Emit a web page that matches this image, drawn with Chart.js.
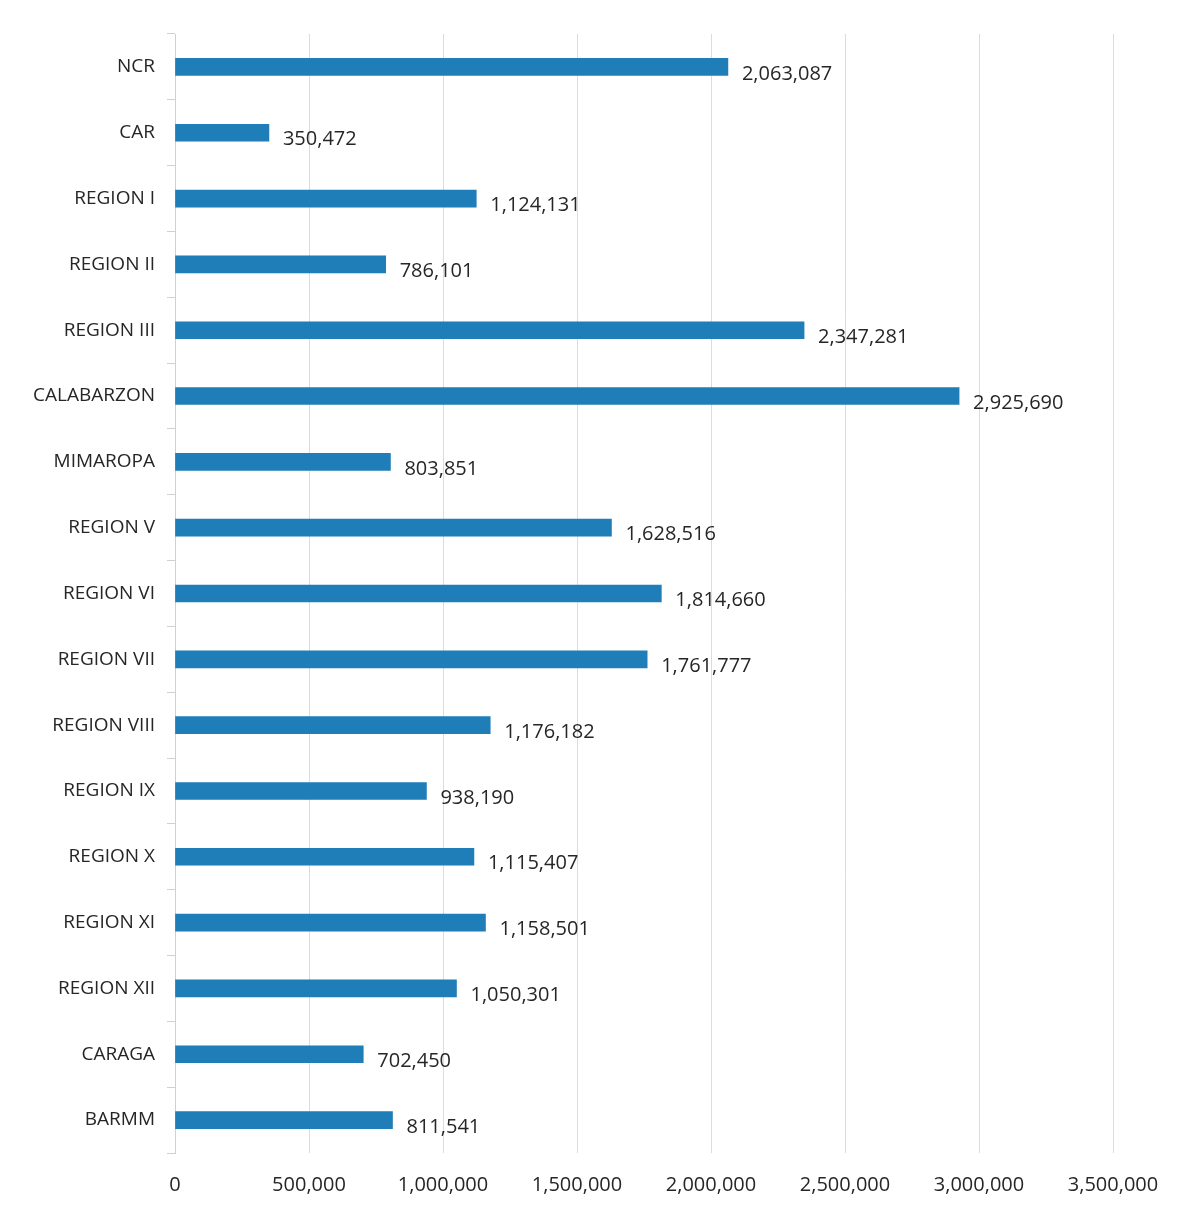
<!DOCTYPE html>
<html>
<head>
<meta charset="utf-8">
<script src="https://cdn.jsdelivr.net/npm/chart.js@4"></script>
<style>
    body { margin: 0; background: #fff; }
</style>
</head>
<body>
<canvas id="myChart" width="1186" height="1208"></canvas>
<script>
const labels = [
    "NCR",
    "CAR",
    "REGION I",
    "REGION II",
    "REGION III",
    "CALABARZON",
    "MIMAROPA",
    "REGION V",
    "REGION VI",
    "REGION VII",
    "REGION VIII",
    "REGION IX",
    "REGION X",
    "REGION XI",
    "REGION XII",
    "CARAGA",
    "BARMM",
];

const values = [
    2063087, 350472, 1124131, 786101, 2347281, 2925690, 803851, 1628516,
    1814660, 1761777, 1176182, 938190, 1115407, 1158501, 1050301, 702450,
    811541,
];

const xMax = 3500000;
const xStep = 500000;

// value labels at the end of each bar
const barLabels = {
    id: "barLabels",
    afterDatasetsDraw(chart) {
        const ctx = chart.ctx;
        const meta = chart.getDatasetMeta(0);
        ctx.save();
        ctx.font = "20px 'Open Sans', sans-serif";
        ctx.fillStyle = "#262626";
        ctx.textAlign = "left";
        ctx.textBaseline = "middle";
        meta.data.forEach((bar, i) => {
            ctx.fillText(values[i].toLocaleString("en-US"), bar.x + 14, bar.y + 7);
        });
        ctx.restore();
    },
};

const myChart = document.getElementById("myChart").getContext("2d");

const chart = new Chart(myChart, {
    type: "bar",
    data: {
        labels,
        datasets: [
            {
                data: values,
                backgroundColor: "#1F7DB8",
                barThickness: 17,
            },
        ],
    },
    options: {
        indexAxis: "y",
        responsive: false,
        animation: false,
        layout: {
            padding: { left: 10, right: 73, top: 34, bottom: 10 },
        },
        plugins: {
            legend: { display: false },
            tooltip: { enabled: false },
        },
        scales: {
            x: {
                min: 0,
                max: xMax,
                afterFit: (scale) => {
                    scale.height = 45;
                },
                ticks: {
                    stepSize: xStep,
                    padding: 20,
                    color: "#262626",
                    font: { family: "'Open Sans', sans-serif", size: 20 },
                    callback: (v) => v.toLocaleString("en-US"),
                },
                grid: {
                    color: "#dcdcdc",
                    drawTicks: false,
                },
                border: { display: false },
            },
            y: {
                afterFit: (scale) => {
                    scale.width = 165;
                },
                ticks: {
                    padding: 12,
                    color: "#262626",
                    font: { family: "'Open Sans', sans-serif", size: 19 },
                },
                grid: {
                    offset: true,
                    drawOnChartArea: false,
                    tickLength: 8,
                    color: "#d0d0d0",
                },
                border: { display: true, color: "#d0d0d0" },
            },
        },
    },
    plugins: [barLabels],
});
</script>
</body>
</html>
